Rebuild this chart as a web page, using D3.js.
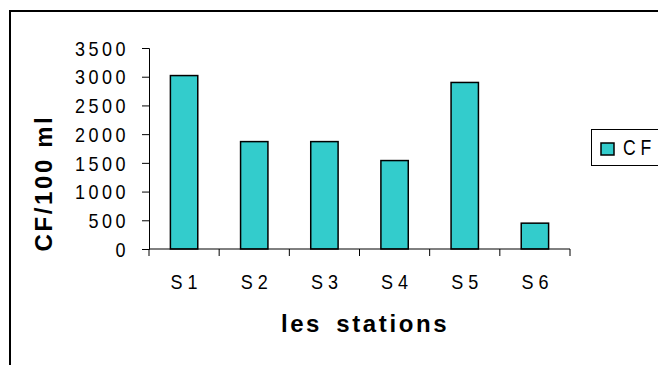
<!DOCTYPE html>
<html>
<head>
<meta charset="utf-8">
<style>
    body { margin: 0; background: #fff; }
    text { font-family: "Liberation Sans", Arial, sans-serif; fill: #000; }
    .tick text { font-size: 20px; letter-spacing: 3.9px; }
    .title { font-size: 24px; font-weight: bold; }
</style>
</head>
<body>
<svg id="chart" width="658" height="365"></svg>

<script src="https://cdn.jsdelivr.net/npm/d3@7"></script>
<script>
    // data
    let stations = ["S1", "S2", "S3", "S4", "S5", "S6"]
    let cfValues = [3020, 1870, 1870, 1540, 2900, 450]
    let yTicks = [0, 500, 1000, 1500, 2000, 2500, 3000, 3500]
    let seriesName = "CF"

    // narrow the glyphs a bit, like the condensed font of the original
    function squeeze(sel, k) {
        sel.each(function () {
            let t = d3.select(this)
            let tx = +t.attr("x") || 0
            t.attr("x", tx / k).attr("transform", `scale(${k},1)`)
        })
    }

    let svg = d3.select("#chart")

    // outer frame (runs off the right and bottom edges)
    svg.append("rect")
        .attr("x", 10).attr("y", 11)
        .attr("width", 720).attr("height", 420)
        .attr("fill", "none")
        .attr("stroke", "#000")
        .attr("stroke-width", 2)

    let plotLeft = 149, plotRight = 570, plotTop = 48, plotBottom = 249

    let x = d3.scaleBand()
        .domain(stations)
        .range([plotLeft, plotRight])
        .paddingInner(0.61)
        .paddingOuter(0.305)

    let y = d3.scaleLinear()
        .domain([0, 3500])
        .range([plotBottom, plotTop])

    // y axis
    let yAxis = svg.append("g")
        .attr("transform", `translate(${plotLeft},0)`)
        .call(d3.axisLeft(y).tickValues(yTicks).tickSize(7).tickPadding(13).tickFormat(d3.format("d")))
    yAxis.selectAll("line, path").attr("stroke", "#000")
    yAxis.selectAll("text").attr("dy", "0.36em").call(squeeze, 0.9)

    // bars
    svg.selectAll(".bar")
        .data(stations)
        .enter()
        .append("rect")
        .attr("class", "bar")
        .attr("x", d => x(d))
        .attr("width", x.bandwidth())
        .attr("y", (d, i) => y(cfValues[i]))
        .attr("height", (d, i) => plotBottom - y(cfValues[i]))
        .attr("fill", "#33CCCC")
        .attr("stroke", "#000")
        .attr("stroke-width", 1.5)

    // x axis: line + ticks at category boundaries
    let xg = svg.append("g")
    xg.append("line")
        .attr("x1", plotLeft).attr("x2", plotRight)
        .attr("y1", plotBottom).attr("y2", plotBottom)
        .attr("stroke", "#000")
    xg.selectAll(".xtick")
        .data(d3.range(stations.length + 1))
        .enter()
        .append("line")
        .attr("x1", i => plotLeft + i * x.step())
        .attr("x2", i => plotLeft + i * x.step())
        .attr("y1", plotBottom).attr("y2", plotBottom + 7)
        .attr("stroke", "#000")
    xg.selectAll(".xlabel")
        .data(stations)
        .enter()
        .append("text")
        .attr("x", d => x(d) + x.bandwidth() / 2 + 2.5)
        .attr("y", 289)
        .attr("text-anchor", "middle")
        .style("font-size", "20px")
        .style("letter-spacing", "5.5px")
        .text(d => d)
        .call(squeeze, 0.9)

    // axis titles
    svg.append("text")
        .attr("class", "title")
        .attr("x", 365)
        .attr("y", 332)
        .attr("text-anchor", "middle")
        .style("letter-spacing", "2.6px")
        .style("word-spacing", "5px")
        .text("les stations")

    svg.append("text")
        .attr("class", "title")
        .attr("transform", "translate(52,183) rotate(-90)")
        .attr("text-anchor", "middle")
        .style("letter-spacing", "2.6px")
        .text("CF/100 ml")

    // legend
    let legend = svg.append("g").attr("transform", "translate(591,129)")
    legend.append("rect")
        .attr("x", 0.5).attr("y", 0.5)
        .attr("width", 120).attr("height", 36)
        .attr("fill", "#fff")
        .attr("stroke", "#000")
    legend.append("rect")
        .attr("x", 10).attr("y", 14)
        .attr("width", 13).attr("height", 12)
        .attr("fill", "#33CCCC")
        .attr("stroke", "#000")
        .attr("stroke-width", 1.5)
    legend.append("text")
        .attr("transform", "translate(32,26) scale(0.8,1)")
        .style("font-size", "22px")
        .style("letter-spacing", "6px")
        .text(seriesName)
</script>
</body>
</html>
